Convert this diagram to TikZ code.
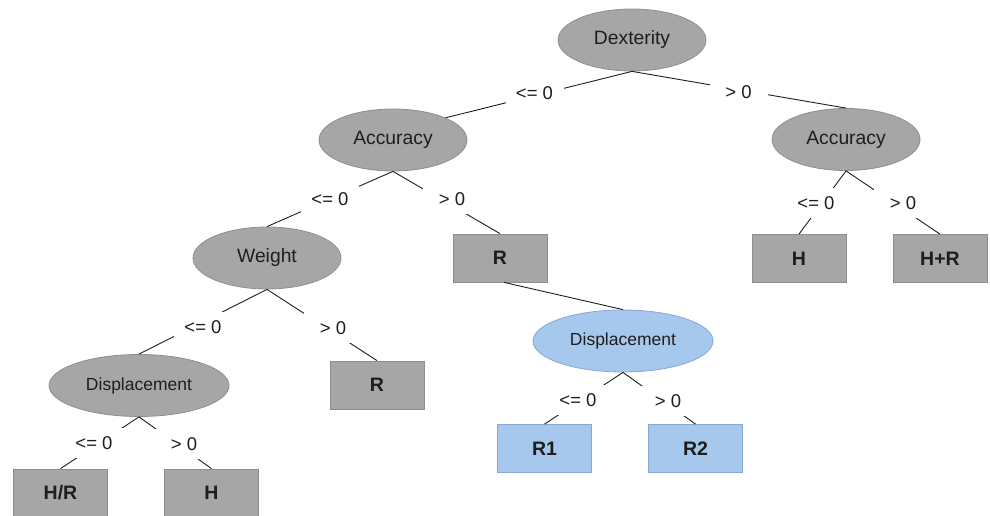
\documentclass[tikz,border=0pt]{standalone}
\usepackage{fontspec}
\setmainfont{Liberation Sans}
\usetikzlibrary{shapes.geometric}
\definecolor{nodegray}{HTML}{A6A6A6}
\definecolor{rimgray}{HTML}{8E8E8E}
\definecolor{nodeblue}{HTML}{A6C8EC}
\definecolor{rimblue}{HTML}{86A8D2}
\definecolor{inkgray}{HTML}{1E1E1E}
\tikzset{
  splitnode/.style={ellipse, fill=nodegray, draw=rimgray, line width=0.8pt,
    minimum width=148pt, minimum height=62pt, inner sep=0pt, text=inkgray,
    font=\fontsize{19.3}{22}\selectfont},
  widesplit/.style={splitnode, minimum width=180pt, font=\fontsize{17.5}{20}\selectfont},
  leafbox/.style={rectangle, fill=nodegray, draw=rimgray, line width=0.8pt,
    minimum width=94pt, minimum height=48pt, inner sep=0pt, text=inkgray,
    font=\fontsize{19.5}{22}\bfseries\selectfont},
  bluenode/.style={fill=nodeblue, draw=rimblue},
  condlabel/.style={fill=white, inner sep=0pt, minimum width=58pt, minimum height=30pt,
    text=inkgray, font=\fontsize{18.5}{21}\selectfont},
  branch/.style={draw=inkgray, line width=0.9pt},
}
\begin{document}
\begin{tikzpicture}[x=1pt,y=-1pt]
\useasboundingbox (0,0) rectangle (990,516);
% split nodes
\node[splitnode] (dex) at (632,40) {Dexterity};
\node[splitnode] (accl) at (393,140) {Accuracy};
\node[splitnode] (accr) at (846,139.5) {Accuracy};
\node[splitnode] (wgt) at (267,258) {Weight};
\node[widesplit] (displ) at (139,385.5) {Displacement};
\node[widesplit, bluenode] (dispb) at (623,341) {Displacement};
% leaves
\node[leafbox] (rmid) at (500,258) {R};
\node[leafbox] (hone) at (799,258.5) {H};
\node[leafbox] (hplr) at (940,258.5) {H+R};
\node[leafbox] (rwgt) at (377,385) {R};
\node[leafbox] (hslr) at (60.5,493) {H/R};
\node[leafbox] (htwo) at (211.5,493) {H};
\node[leafbox, bluenode] (rone) at (544.5,448.5) {R1};
\node[leafbox, bluenode] (rtwo) at (695.5,448.5) {R2};
% connectors
\draw[branch] (dex.south) -- (accl.north east);
\draw[branch] (dex.south) -- (accr.north);
\draw[branch] (accl.south) -- (wgt.north);
\draw[branch] (accl.south) -- (rmid.north);
\draw[branch] (accr.south) -- (hone.north);
\draw[branch] (accr.south) -- (hplr.north);
\draw[branch] (wgt.south) -- (displ.north);
\draw[branch] (wgt.south) -- (rwgt.north);
\draw[branch] (displ.south) -- (hslr.north);
\draw[branch] (displ.south) -- (htwo.north);
\draw[branch] ([xshift=4pt]rmid.south) -- (dispb.north);
\draw[branch] (dispb.south) -- (rone.north);
\draw[branch] (dispb.south) -- (rtwo.north);
% condition labels
\node[condlabel] (c1) at (534.5,93) {<= 0};
\node[condlabel] (c2) at (738.5,92) {> 0};
\node[condlabel] (c3) at (330,199) {<= 0};
\node[condlabel] (c4) at (452,199) {> 0};
\node[condlabel] (c5) at (816,203) {<= 0};
\node[condlabel] (c6) at (903,203) {> 0};
\node[condlabel] (c7) at (203,327) {<= 0};
\node[condlabel] (c8) at (333,328) {> 0};
\node[condlabel] (c9) at (94,443) {<= 0};
\node[condlabel] (c10) at (184,444) {> 0};
\node[condlabel] (c11) at (578,400) {<= 0};
\node[condlabel] (c12) at (668,401) {> 0};
\end{tikzpicture}
\end{document}
